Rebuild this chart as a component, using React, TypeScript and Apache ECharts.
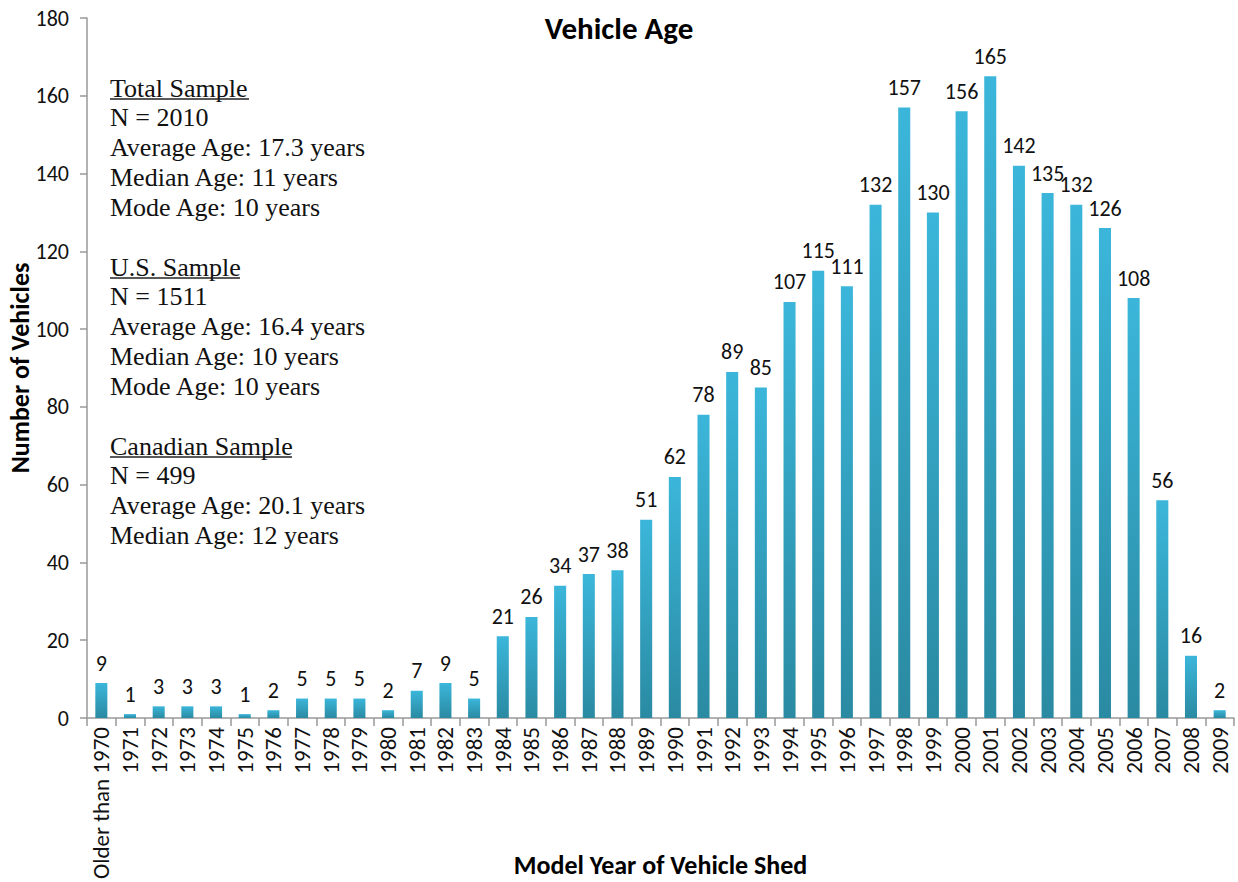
import React, { useEffect, useRef } from "react";
import * as echarts from "echarts";

const categories = ["Older than 1970", "1971", "1972", "1973", "1974", "1975", "1976", "1977", "1978", "1979", "1980", "1981", "1982", "1983", "1984", "1985", "1986", "1987", "1988", "1989", "1990", "1991", "1992", "1993", "1994", "1995", "1996", "1997", "1998", "1999", "2000", "2001", "2002", "2003", "2004", "2005", "2006", "2007", "2008", "2009"];
const vehicles = [9, 1, 3, 3, 3, 1, 2, 5, 5, 5, 2, 7, 9, 5, 21, 26, 34, 37, 38, 51, 62, 78, 89, 85, 107, 115, 111, 132, 157, 130, 156, 165, 142, 135, 132, 126, 108, 56, 16, 2];

const totalLines = ["N = 2010", "Average Age: 17.3 years", "Median Age: 11 years", "Mode Age: 10 years"];
const usLines = ["N = 1511", "Average Age: 16.4 years", "Median Age: 10 years", "Mode Age: 10 years"];
const caLines = ["N = 499", "Average Age: 20.1 years", "Median Age: 12 years"];

const SANS = "Carlito, Calibri, Lato, sans-serif";
const SERIF = "'Liberation Serif', 'Times New Roman', serif";

function block(title: string, lines: string[], top: number, underlineW: number) {
  const els: any[] = [];
  const lh = 29.8;
  els.push({
    type: "text", left: 110, top: top,
    style: { text: title, font: `26px ${SERIF}`, fill: "#111" },
  });
  els.push({
    type: "line",
    shape: { x1: 110, y1: top + 24, x2: 110 + underlineW, y2: top + 24 },
    style: { stroke: "#222", lineWidth: 1.4 },
  });
  lines.forEach((t, i) => {
    els.push({
      type: "text", left: 110, top: top + lh * (i + 1),
      style: { text: t, font: `26px ${SERIF}`, fill: "#111" },
    });
  });
  return els;
}

export default function App() {
  const ref = useRef<HTMLDivElement>(null);
  useEffect(() => {
    const chart = echarts.init(ref.current!, null, { renderer: "svg" });
    chart.setOption({
      animation: false,
      backgroundColor: "#fff",
      title: {
        text: "Vehicle Age", left: "center", top: 7,
        textStyle: { fontFamily: SANS, fontSize: 31, fontWeight: "bold", color: "#000" },
      },
      grid: { left: 87, right: 4, top: 18, bottom: 164, containLabel: false, outerBoundsMode: "none" },
      xAxis: {
        type: "category",
        data: categories,
        name: "Model Year of Vehicle Shed",
        nameLocation: "middle",
        nameGap: 134,
        nameMoveOverlap: false,
        nameTextStyle: { fontFamily: SANS, fontSize: 26, fontWeight: "bold", color: "#000" },
        axisLine: { lineStyle: { color: "#999", width: 1.5 } },
        axisTick: { show: true, length: 8, alignWithLabel: false, lineStyle: { color: "#999", width: 1.5 } },
        axisLabel: { rotate: 90, fontFamily: SANS, fontSize: 23, color: "#111", margin: 9, interval: 0 },
      },
      yAxis: {
        type: "value", min: 0, max: 180, interval: 20,
        name: "Number of Vehicles",
        nameLocation: "middle",
        nameGap: 54,
        nameMoveOverlap: false,
        nameTextStyle: { fontFamily: SANS, fontSize: 26, fontWeight: "bold", color: "#000" },
        axisLine: { show: true, lineStyle: { color: "#999", width: 1.5 } },
        axisTick: { show: true, length: 7, lineStyle: { color: "#999", width: 1.5 } },
        splitLine: { show: false },
        axisLabel: { fontFamily: SANS, fontSize: 22, color: "#111", margin: 18 },
      },
      series: [{
        type: "bar",
        data: vehicles,
        barWidth: "42%",
        itemStyle: {
          color: new echarts.graphic.LinearGradient(0, 0, 0, 1, [
            { offset: 0, color: "#3BB6DA" },
            { offset: 1, color: "#2A8AA2" },
          ], false),
        },
        label: {
          show: true, position: "top", distance: 9,
          fontFamily: SANS, fontSize: 22, color: "#111",
        },
      }],
      graphic: [
        ...block("Total Sample", totalLines, 75, 139),
        ...block("U.S. Sample", usLines, 254, 130),
        ...block("Canadian Sample", caLines, 433, 182),
      ],
    });
    return () => chart.dispose();
  }, []);
  return <div ref={ref} style={{ position: "fixed", left: 0, top: 0, width: 1238, height: 882 }} />;
}
